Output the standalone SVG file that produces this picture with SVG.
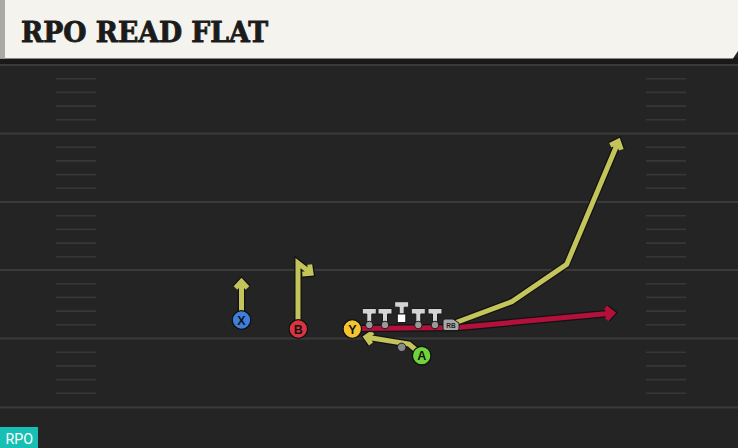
<svg xmlns="http://www.w3.org/2000/svg" width="738" height="448" viewBox="0 0 738 448">
<style>
.yl{stroke:#3a3a3a;stroke-width:2;fill:none}
.hm{stroke:#373737;stroke-width:1.6;fill:none}
.out{stroke:#121212;stroke-width:7.5;fill:none;stroke-linejoin:miter;stroke-linecap:butt}
.yel{stroke:#c3c45a;stroke-width:5;fill:none;stroke-linejoin:miter}
.red{stroke:#b3113b;stroke-width:5;fill:none;stroke-linejoin:miter}
.pl{stroke:#111;stroke-width:1.3}
.lt{font-family:"Liberation Sans",Arial,sans-serif;font-weight:bold;font-size:12.5px;fill:#141414;text-anchor:middle}
.ol{fill:#d4d4d4;stroke:#1a1a1a;stroke-width:1}
.dot{fill:#9a9a9a;stroke:#1a1a1a;stroke-width:1}
</style>
<defs>
<g id="hashes">
<line x1="56" y1="13.7" x2="96" y2="13.7"/><line x1="56" y1="27.4" x2="96" y2="27.4"/><line x1="56" y1="41.1" x2="96" y2="41.1"/><line x1="56" y1="54.8" x2="96" y2="54.8"/>
<line x1="646" y1="13.7" x2="686" y2="13.7"/><line x1="646" y1="27.4" x2="686" y2="27.4"/><line x1="646" y1="41.1" x2="686" y2="41.1"/><line x1="646" y1="54.8" x2="686" y2="54.8"/>
</g>
</defs>
<rect x="0" y="0" width="738" height="448" fill="#242424"/>
<g id="field">
<g class="yl">
<line x1="0" y1="65" x2="738" y2="65"/><line x1="0" y1="133.5" x2="738" y2="133.5"/><line x1="0" y1="202" x2="738" y2="202"/><line x1="0" y1="270" x2="738" y2="270"/><line x1="0" y1="338.5" x2="738" y2="338.5"/><line x1="0" y1="407.5" x2="738" y2="407.5"/>
</g>
<g class="hm">
<use href="#hashes" transform="translate(0,65)"/><use href="#hashes" transform="translate(0,133.5)"/><use href="#hashes" transform="translate(0,202)"/><use href="#hashes" transform="translate(0,270)"/><use href="#hashes" transform="translate(0,338.5)"/>
</g>
</g>
<g id="header">
<rect x="0" y="57" width="738" height="7" fill="#191919"/>
<path d="M0 0 H738 V51 L733 58.5 H0 Z" fill="#f5f3ed"/>
<rect x="0" y="0" width="5" height="58.5" fill="#a9aaa6"/>
<text x="21" y="42.3" font-family="'DejaVu Serif Condensed','DejaVu Serif',serif" font-weight="bold" font-size="28" fill="#1b1b1b" stroke="#1b1b1b" stroke-width="0.8" textLength="247" lengthAdjust="spacingAndGlyphs">RPO READ FLAT</text>
</g>
<g id="connectors">
<path class="out" d="M241.5 312 V282 M235.5 288 L241.5 281.5 L247.5 288"/>
<path class="yel" d="M241.5 312 V282 M235.5 288 L241.5 281.5 L247.5 288"/>
<path class="out" d="M298 321 V263 L310.5 272.7 M302.3 273.9 L311 273.3 L309.7 264.5"/>
<path class="yel" d="M298 321 V263 L310.5 272.7 M302.3 273.9 L311 273.3 L309.7 264.5"/>
<path class="out" d="M416 350 L409 344 L367 337.3 M372.8 332.2 L366 337 L371 344"/>
<path class="yel" d="M416 350 L409 344 L367 337.3 M372.8 332.2 L366 337 L371 344"/>
<path class="out" d="M355 328.5 L458 327.5 L611 313.2 M605.5 307.6 L612.5 313 L606.5 319.6"/>
<path class="red" d="M355 328.5 L458 327.5 L611 313.2 M605.5 307.6 L612.5 313 L606.5 319.6"/>
<path class="out" d="M452 324 L511.7 301.7 L566.7 264.3 L618 142.5 M610.3 145.2 L618.3 141.2 L621.3 149.8"/>
<path class="yel" d="M452 324 L511.7 301.7 L566.7 264.3 L618 142.5 M610.3 145.2 L618.3 141.2 L621.3 149.8"/>
</g>
<g id="line">
<g id="lt1"><path class="ol" d="M362.3 308.5 h14 v5.5 h-4.5 v10.5 h-5 v-10.5 h-4.5 z"/><circle class="dot" cx="369.3" cy="325" r="3.8"/></g>
<g id="lt2"><path class="ol" d="M378 308.5 h14 v5.5 h-4.5 v10.5 h-5 v-10.5 h-4.5 z"/><circle class="dot" cx="385" cy="325" r="3.8"/></g>
<g id="center"><path class="ol" d="M394.7 301.7 h14 v5.5 h-4.5 v6.8 h-5 v-6.8 h-4.5 z"/><rect x="397.3" y="314" width="8.5" height="8.5" fill="#fff" stroke="#1a1a1a" stroke-width="1"/></g>
<g id="lt4"><path class="ol" d="M411.3 308.5 h14 v5.5 h-4.5 v10.5 h-5 v-10.5 h-4.5 z"/><circle class="dot" cx="418.3" cy="325" r="3.8"/></g>
<g id="lt5"><path class="ol" d="M428 308.5 h14 v5.5 h-4.5 v10.5 h-5 v-10.5 h-4.5 z"/><circle class="dot" cx="435" cy="325" r="3.8"/></g>
</g>
<g id="qb"><circle cx="401.7" cy="347.3" r="4.2" fill="#8a8a8a" stroke="#1a1a1a" stroke-width="1"/></g>
<g id="rb">
<path d="M445 319 H453 L459 323 V328.5 Q459 330.5 457 330.5 H445 Q443 330.5 443 328.5 V321 Q443 319 445 319 Z" fill="#a8a8a8" stroke="#1a1a1a" stroke-width="1"/>
<text x="451" y="328.3" font-family="'Liberation Sans',Arial,sans-serif" font-weight="bold" font-size="6.5" fill="#222" text-anchor="middle">RB</text>
</g>
<g id="X"><circle class="pl" cx="241.5" cy="320" r="9.3" fill="#3f7fdc"/><text class="lt" x="241.5" y="324.5">X</text></g>
<g id="B"><circle class="pl" cx="298.3" cy="329" r="9.3" fill="#dc3340"/><text class="lt" x="298.3" y="333.5">B</text></g>
<g id="Y"><circle class="pl" cx="352.3" cy="329" r="9.3" fill="#f4c430"/><text class="lt" x="352.3" y="333.5">Y</text></g>
<g id="A"><circle class="pl" cx="421.7" cy="355.7" r="9.3" fill="#6ed43c"/><text class="lt" x="421.7" y="360.2">A</text></g>
<g id="badge">
<rect x="0" y="427" width="38" height="21" fill="#18bfb4"/>
<text x="5.5" y="444" font-family="Roboto,'Liberation Sans',sans-serif" font-size="15.5" fill="#ffffff" textLength="27.5" lengthAdjust="spacingAndGlyphs">RPO</text>
</g>
</svg>
